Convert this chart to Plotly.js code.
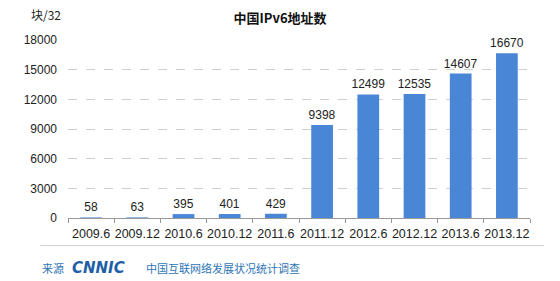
<!DOCTYPE html>
<html><head><meta charset="utf-8">
<script src="https://cdn.plot.ly/plotly-3.0.1.min.js"></script>
<style>body{margin:0;background:#fff}#c{width:560px;height:281px}</style>
</head><body><div id="c"></div>
<script>
const categories = ["2009.6","2009.12","2010.6","2010.12","2011.6","2011.12","2012.6","2012.12","2013.6","2013.12"];
const values = [58,63,395,401,429,9398,12499,12535,14607,16670];
const yTicks = [0,3000,6000,9000,12000,15000,18000];

const font = "Liberation Sans, Arial, sans-serif";
const cjk = "Noto Sans CJK SC, sans-serif";

Plotly.newPlot("c", [{
  type: "bar", x: categories, y: values,
  marker: {color: "#4A86D6"},
  width: 0.47,
  text: values.map(String), textposition: "outside", cliponaxis: false, constraintext: "none",
  textfont: {family: font, size: 12, color: "#222"}
}], {
  width: 560, height: 281,
  margin: {l: 68, r: 30, t: 40, b: 63},
  paper_bgcolor: "#fff", plot_bgcolor: "#fff",
  showlegend: false,
  title: {text: "<b>中国IPv6地址数</b>", x: 0.5, xanchor: "center", y: 0.935, yanchor: "middle",
          font: {family: cjk, size: 13, color: "#111"}},
  xaxis: {type: "category", showgrid: false, showline: true, linecolor: "#999", linewidth: 1,
          ticks: "outside", ticklen: 4, tickcolor: "#999", tickson: "boundaries", tickangle: 0,
          ticklabelstandoff: 4,
          tickfont: {family: font, size: 12.5, color: "#222"}, fixedrange: true},
  yaxis: {range: [0, 18000], tickvals: yTicks, ticktext: yTicks.map(String), showgrid: true,
          gridcolor: "#cfcfcf", griddash: "dash", gridwidth: 1, zeroline: false, showline: false,
          ticks: "", ticklabelstandoff: 10,
          tickfont: {family: font, size: 12, color: "#222"}, fixedrange: true},
  bargap: 0.53,
  shapes: [{type: "line", xref: "paper", yref: "paper", x0: -0.06, x1: 1.03, y0: -0.155, y1: -0.155,
            line: {color: "#cccccc", width: 1}}],
  annotations: [
    {text: "块/32", xref: "paper", yref: "paper", x: -0.085, y: 1.145, xanchor: "left", yanchor: "middle",
     showarrow: false, font: {family: cjk, size: 12, color: "#222"}},
    {text: "来源", xref: "paper", yref: "paper", x: -0.06, y: -0.28, xanchor: "left", yanchor: "middle",
     showarrow: false, font: {family: cjk, size: 11, color: "#2E75B6"}},
    {text: "<b><i>CNNIC</i></b>", xref: "paper", yref: "paper", x: 0.005, y: -0.28, xanchor: "left", yanchor: "middle",
     showarrow: false, font: {family: "DejaVu Sans, sans-serif", size: 15, color: "#1F5FA8"}},
    {text: "中国互联网络发展状况统计调查", xref: "paper", yref: "paper", x: 0.165, y: -0.28, xanchor: "left", yanchor: "middle",
     showarrow: false, font: {family: cjk, size: 11, color: "#2E75B6"}}
  ]
}, {displayModeBar: false, staticPlot: true});
</script></body></html>
